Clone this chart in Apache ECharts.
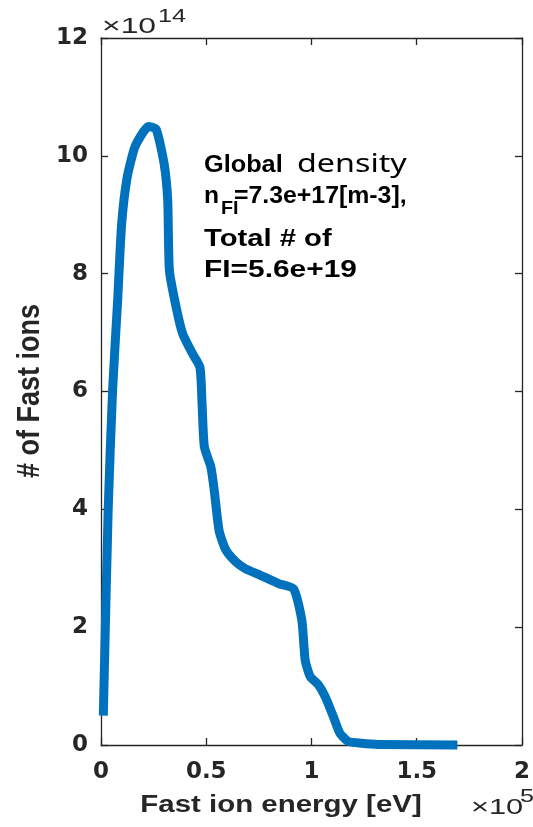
<!DOCTYPE html>
<html>
<head>
<meta charset="utf-8">
<script src="https://cdn.jsdelivr.net/npm/echarts@6/dist/echarts.min.js"></script>
<style>
  html, body { margin: 0; padding: 0; background: #fff; }
  #chart { width: 533px; height: 827px; }
</style>
</head>
<body>
<div id="chart"></div>
<script>
// Fast-ion energy distribution (energy in units of 1e5 eV, counts in units of 1e14)
const energy = [
  0.011, 0.034, 0.055, 0.079, 0.098, 0.124, 0.160, 0.200, 0.225, 0.262,
  0.300, 0.317, 0.325, 0.357, 0.388, 0.435, 0.470, 0.480, 0.491, 0.522,
  0.538, 0.561, 0.593, 0.640, 0.687, 0.758, 0.844, 0.915, 0.954, 0.970,
  0.994, 1.033, 1.065, 1.104, 1.135, 1.175, 1.237, 1.316, 1.693
];
const fastIons = [
  0.50, 3.98, 6.02, 7.54, 8.84, 9.63, 10.14, 10.40, 10.50, 10.45,
  9.86, 9.24, 8.05, 7.43, 6.98, 6.64, 6.41, 5.80, 5.06, 4.72,
  4.32, 3.64, 3.31, 3.11, 2.99, 2.88, 2.74, 2.65, 2.12, 1.44,
  1.16, 1.02, 0.82, 0.48, 0.20, 0.06, 0.03, 0.01, 0.00
];

const xTicks = { min: 0, max: 2, interval: 0.5 };
const yTicks = { min: 0, max: 12, interval: 2 };

const axisColor = '#262626';
const labelFont = { fontFamily: 'DejaVu Sans', fontWeight: 'bold', fontSize: 23, color: axisColor };

function axis(base, pos, showLabel, margin) {
  return Object.assign({
    type: 'value',
    position: pos,
    axisLine: { show: true, onZero: false, lineStyle: { color: axisColor, width: 1.3 } },
    axisTick: { show: true, inside: true, length: 7, lineStyle: { color: axisColor, width: 1.3 } },
    axisLabel: Object.assign({ show: showLabel, margin: margin }, labelFont),
    splitLine: { show: false }
  }, base);
}

const chart = echarts.init(document.getElementById('chart'), null, { renderer: 'canvas' });

const data = energy.map((e, i) => [e, fastIons[i]]);

const txt = (x, y, text, font, sx, extra) => ({
  type: 'text',
  x: x, y: y,
  scaleX: sx || 1,
  style: Object.assign({
    text: text,
    font: font,
    fill: '#000',
    textAlign: 'left',
    textVerticalAlign: 'middle'
  }, extra || {})
});

chart.setOption({
  animation: false,
  backgroundColor: '#fff',
  grid: { left: 101, right: 8, top: 38, bottom: 82, containLabel: false },
  xAxis: [
    axis(xTicks, 'bottom', true, 16),
    axis(xTicks, 'top', false, 8)
  ],
  yAxis: [
    axis(yTicks, 'left', true, 13),
    axis(yTicks, 'right', false, 8)
  ],
  series: [{
    type: 'line',
    xAxisIndex: 0,
    yAxisIndex: 0,
    data: data,
    showSymbol: false,
    clip: false,
    smooth: 0.2,
    lineStyle: { color: '#0072BD', width: 9, cap: 'butt', join: 'round' }
  }],
  graphic: [
    // exponent of the count axis
    txt(102, 27, '\u00d710', '22px "Liberation Sans"', 1.45, { fill: axisColor }),
    txt(158, 17, '14', '18px "Liberation Sans"', 1.4, { fill: axisColor }),
    // exponent of the energy axis
    txt(471, 808, '\u00d710', '22px "Liberation Sans"', 1.4, { fill: axisColor }),
    txt(520, 797, '5', '18px "Liberation Sans"', 1.4, { fill: axisColor }),
    // axis titles
    txt(281, 806, 'Fast ion energy [eV]', 'bold 23px "Liberation Sans"', 1.28,
        { fill: axisColor, textAlign: 'center' }),
    {
      type: 'text',
      x: 30, y: 391,
      rotation: Math.PI / 2,
      scaleX: 1.2, scaleY: 1.4,
      style: {
        text: '# of Fast ions',
        font: 'bold 22.5px "Liberation Sans"',
        fill: axisColor,
        textAlign: 'center',
        textVerticalAlign: 'middle'
      }
    },
    // annotation
    txt(204, 166, 'Global', 'bold 23px "Liberation Sans"', 1.1),
    txt(297, 165, 'density', '25px "Noto Sans"', 1.29),
    txt(204, 197, 'n', 'bold 23px "Liberation Sans"', 1.07),
    txt(221, 209, 'FI', 'bold 18px "Liberation Sans"', 1.1),
    txt(234, 197, '=7.3e+17[m-3],', 'bold 23px "Liberation Sans"', 1.08),
    txt(204, 239.5, 'Total # of', 'bold 23px "Liberation Sans"', 1.27),
    txt(204, 270.5, 'FI=5.6e+19', 'bold 23px "Liberation Sans"', 1.3)
  ]
});
</script>
</body>
</html>
